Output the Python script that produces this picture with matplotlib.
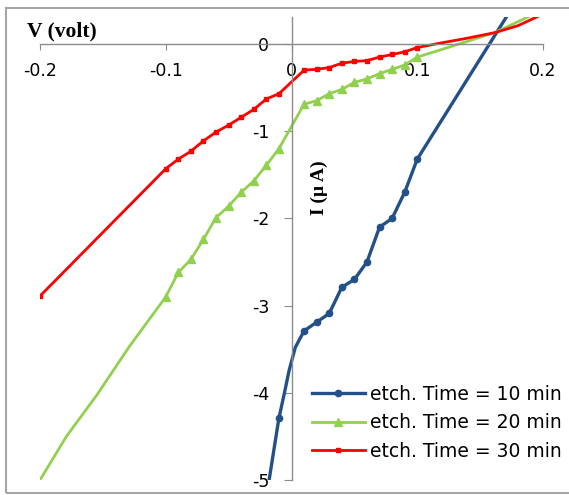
import matplotlib
matplotlib.use("Agg")
import matplotlib.pyplot as plt
from matplotlib.patches import Rectangle

plt.rcParams["axes.unicode_minus"] = False

# etch. Time = 10 min (blue, circles)
v10 = [-0.02, -0.01, -0.0056, -0.002, 0.003, 0.01, 0.02, 0.03, 0.04, 0.05, 0.06, 0.07, 0.08, 0.09, 0.10, 0.18]
i10 = [-5.2, -4.29, -4.0, -3.75, -3.48, -3.29, -3.19, -3.09, -2.79, -2.70, -2.50, -2.10, -2.00, -1.70, -1.32, 0.52]
mk10 = [1, 5, 6, 7, 8, 9, 10, 11, 12, 13, 14]

# etch. Time = 20 min (green, triangles)
v20 = [-0.2, -0.179, -0.155, -0.129, -0.10, -0.09, -0.08, -0.07, -0.06, -0.05,
       -0.04, -0.03, -0.02, -0.01, 0.01, 0.02, 0.03, 0.04, 0.05, 0.06, 0.07, 0.08, 0.09, 0.10,
       0.12, 0.139, 0.1615, 0.188, 0.20]
i20 = [-5.0, -4.50, -4.03, -3.47, -2.90, -2.62, -2.47, -2.24, -1.99, -1.86,
       -1.70, -1.57, -1.39, -1.20, -0.69, -0.65, -0.57, -0.52, -0.44, -0.40, -0.34, -0.29, -0.24, -0.15,
       -0.06, 0.027, 0.13, 0.31, 0.40]
mk20 = list(range(4, 24))

# etch. Time = 30 min (red, squares)
v30 = [-0.2, -0.10, -0.09, -0.08, -0.07, -0.06, -0.05, -0.04, -0.03, -0.02, -0.01,
       0.01, 0.02, 0.03, 0.04, 0.05, 0.06, 0.07, 0.08, 0.09, 0.10,
       0.12, 0.139, 0.1615, 0.18, 0.195, 0.21]
i30 = [-2.89, -1.43, -1.32, -1.23, -1.11, -1.01, -0.93, -0.84, -0.75, -0.63, -0.57,
       -0.30, -0.29, -0.27, -0.22, -0.20, -0.19, -0.15, -0.12, -0.09, -0.04,
       0.015, 0.065, 0.13, 0.21, 0.31, 0.42]
mk30 = list(range(0, 21))

labels = ["etch. Time = 10 min", "etch. Time = 20 min", "etch. Time = 30 min"]
xticks = [-0.2, -0.1, 0, 0.1, 0.2]
xticklabels = ["-0.2", "-0.1", "0", "0.1", "0.2"]
yticks = [-5, -4, -3, -2, -1, 0]

W, H = 569, 495
fig = plt.figure(figsize=(W / 100, H / 100), dpi=100)
ax = fig.add_axes([40 / W, (H - 480) / H, 503 / W, 463 / H])

ax.plot(v10, i10, color="#24508A", lw=2.4, marker="o", ms=4.5, markevery=mk10, label=labels[0])
ax.plot(v20, i20, color="#92D050", lw=2.0, marker="^", ms=5.5, markevery=mk20, label=labels[1])
ax.plot(v30, i30, color="#FF0000", lw=2.0, marker="s", ms=3.5, markevery=mk30, label=labels[2])

ax.set_xlim(-0.2, 0.2)
ax.set_ylim(-5, 0.31)

for s in ["top", "right"]:
    ax.spines[s].set_visible(False)
ax.spines["bottom"].set_position(("data", 0))
ax.spines["left"].set_position(("data", 0))
for s in ["bottom", "left"]:
    ax.spines[s].set_color("#8c8c8c")
    ax.spines[s].set_linewidth(1.0)

ax.set_xticks(xticks)
ax.set_xticklabels(xticklabels)
ax.set_yticks(yticks)
ax.tick_params(axis="x", direction="out", length=4, color="#8c8c8c", pad=9, labelsize=12.5)
ax.tick_params(axis="y", direction="out", length=6, color="#8c8c8c", pad=10, labelsize=12.5)
ax.patch.set_alpha(0)

fig.text(27 / W, 1 - 31 / H, "V (volt)", family="Liberation Serif", weight="bold",
         fontsize=15.5, va="center", ha="left")
fig.text(319 / W, 1 - 188 / H, "I (µ A)", family="Liberation Serif", weight="bold",
         fontsize=14, va="center", ha="center", rotation=90)

fig.legend(loc="upper left", bbox_to_anchor=(312 / W, 1 - 385 / H), frameon=False,
           borderpad=0, borderaxespad=0, handlelength=2.8, handletextpad=0.3,
           labelspacing=0.5, fontsize=13.5)

fig.patches.append(Rectangle((6 / W, 2 / H), 570 / W, 485 / H, transform=fig.transFigure,
                             fill=False, edgecolor="#a6a6a6", lw=1.5))

fig.savefig("out.png", dpi=100)
